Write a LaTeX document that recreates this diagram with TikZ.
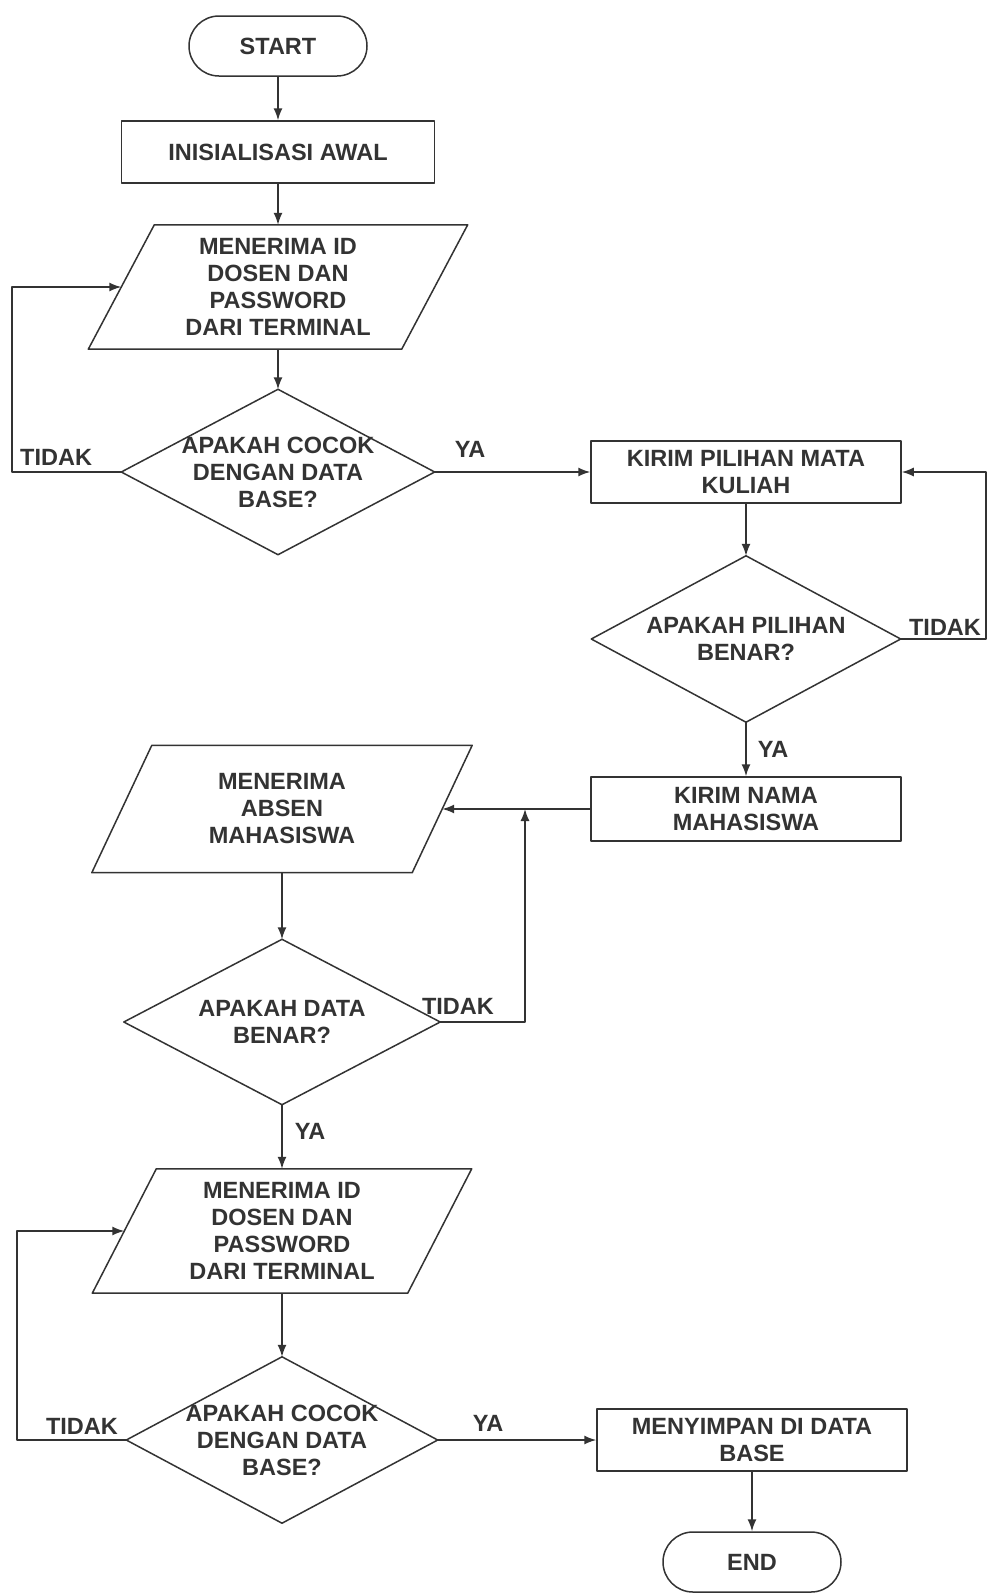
\documentclass[tikz,border=0pt]{standalone}
\usepackage{fontspec}
\setmainfont{Liberation Sans}
\usetikzlibrary{arrows.meta}
\definecolor{ink}{gray}{0.2}
\tikzset{
  base/.style={font=\fontsize{23.5}{27}\selectfont\bfseries, text=ink, align=center, inner sep=0pt},
  ln/.style={draw=ink, line width=1.5pt, line join=round},
  arr/.style={ln, -{Latex[length=12pt,width=9pt]}},
  term/.style={base, ln, rounded corners=30pt, minimum width=178pt, minimum height=60pt},
  proc/.style={base, ln, minimum width=310pt, minimum height=62pt},
  iobox/.style={base, minimum width=314pt, minimum height=124pt},
  decbox/.style={base, minimum width=312pt, minimum height=165pt},
  lbl/.style={base},
}
\newcommand\drawpara[2]{\draw[ln] ([xshift=#2pt]#1.north west) -- ([xshift=#2pt]#1.north east) -- ([xshift=-#2pt]#1.south east) -- ([xshift=-#2pt]#1.south west) -- cycle;}
\newcommand\drawdec[1]{\draw[ln] (#1.north) -- (#1.east) -- (#1.south) -- (#1.west) -- cycle;}
\begin{document}
\begin{tikzpicture}[x=1pt,y=-1pt]
\fill[white] (0,0) rectangle (988,1593);
\useasboundingbox (0,0) rectangle (988,1593);
% left column top
\node[term] (start) at (278,46) {START};
\node[proc, minimum width=313pt] (init) at (278,152) {INISIALISASI AWAL};
\node[iobox, minimum width=313pt] (p1) at (278,287) {MENERIMA ID\\DOSEN DAN\\PASSWORD\\DARI TERMINAL};
\drawpara{p1}{33}
\node[decbox, minimum width=313pt] (d1) at (278,472) {APAKAH COCOK\\DENGAN DATA\\BASE?};
\drawdec{d1}
% right column
\node[proc] (k1) at (746,472) {KIRIM PILIHAN MATA\\KULIAH};
\node[decbox, minimum width=309pt, minimum height=166pt] (d2) at (746,639) {APAKAH PILIHAN\\BENAR?};
\drawdec{d2}
\node[proc, minimum height=64pt] (k2) at (746,809) {KIRIM NAMA\\MAHASISWA};
% left column middle
\node[iobox, minimum width=320pt, minimum height=127pt] (p2) at (282,809) {MENERIMA\\ABSEN\\MAHASISWA};
\drawpara{p2}{30}
\node[decbox, minimum width=316pt] (d3) at (282,1022) {APAKAH DATA\\BENAR?};
\drawdec{d3}
\node[iobox, minimum width=315pt] (p3) at (282,1231) {MENERIMA ID\\DOSEN DAN\\PASSWORD\\DARI TERMINAL};
\drawpara{p3}{32}
\node[decbox, minimum width=311pt, minimum height=166pt] (d4) at (282,1440) {APAKAH COCOK\\DENGAN DATA\\BASE?};
\drawdec{d4}
\node[proc] (k3) at (752,1440) {MENYIMPAN DI DATA\\BASE};
\node[term] (end) at (752,1562) {END};
% loop coordinates
\coordinate (l1) at (12,472);
\coordinate (r1) at (986,639);
\coordinate (r2) at (525,1022);
\coordinate (j2) at (525,809);
\coordinate (l4) at (17,1440);
% connectors
\draw[arr] (start.south) -- (init.north);
\draw[arr] (init.south) -- (p1.north);
\draw[arr] (p1.south) -- (d1.north);
\draw[arr] (d1.west) -- (l1) |- (p1.west);
\draw[arr] (d1.east) -- (k1.west);
\draw[arr] (k1.south) -- (d2.north);
\draw[arr] (d2.east) -- (r1) |- (k1.east);
\draw[arr] (d2.south) -- (k2.north);
\draw[arr] (k2.west) -- (p2.east);
\draw[arr] (p2.south) -- (d3.north);
\draw[arr] (d3.east) -- (r2) -- (j2);
\draw[arr] (d3.south) -- (p3.north);
\draw[arr] (p3.south) -- (d4.north);
\draw[arr] (d4.west) -- (l4) |- (p3.west);
\draw[arr] (d4.east) -- (k3.west);
\draw[arr] (k3.south) -- (end.north);
% labels
\node[lbl, anchor=west] (t1) at (20,457) {TIDAK};
\node[lbl] (y1) at (470,449) {YA};
\node[lbl] (t2) at (945,627) {TIDAK};
\node[lbl] (y2) at (773,749) {YA};
\node[lbl] (t3) at (458,1006) {TIDAK};
\node[lbl] (y3) at (310,1131) {YA};
\node[lbl] (t4) at (82,1426) {TIDAK};
\node[lbl] (y4) at (488,1423) {YA};
\end{tikzpicture}
\end{document}
